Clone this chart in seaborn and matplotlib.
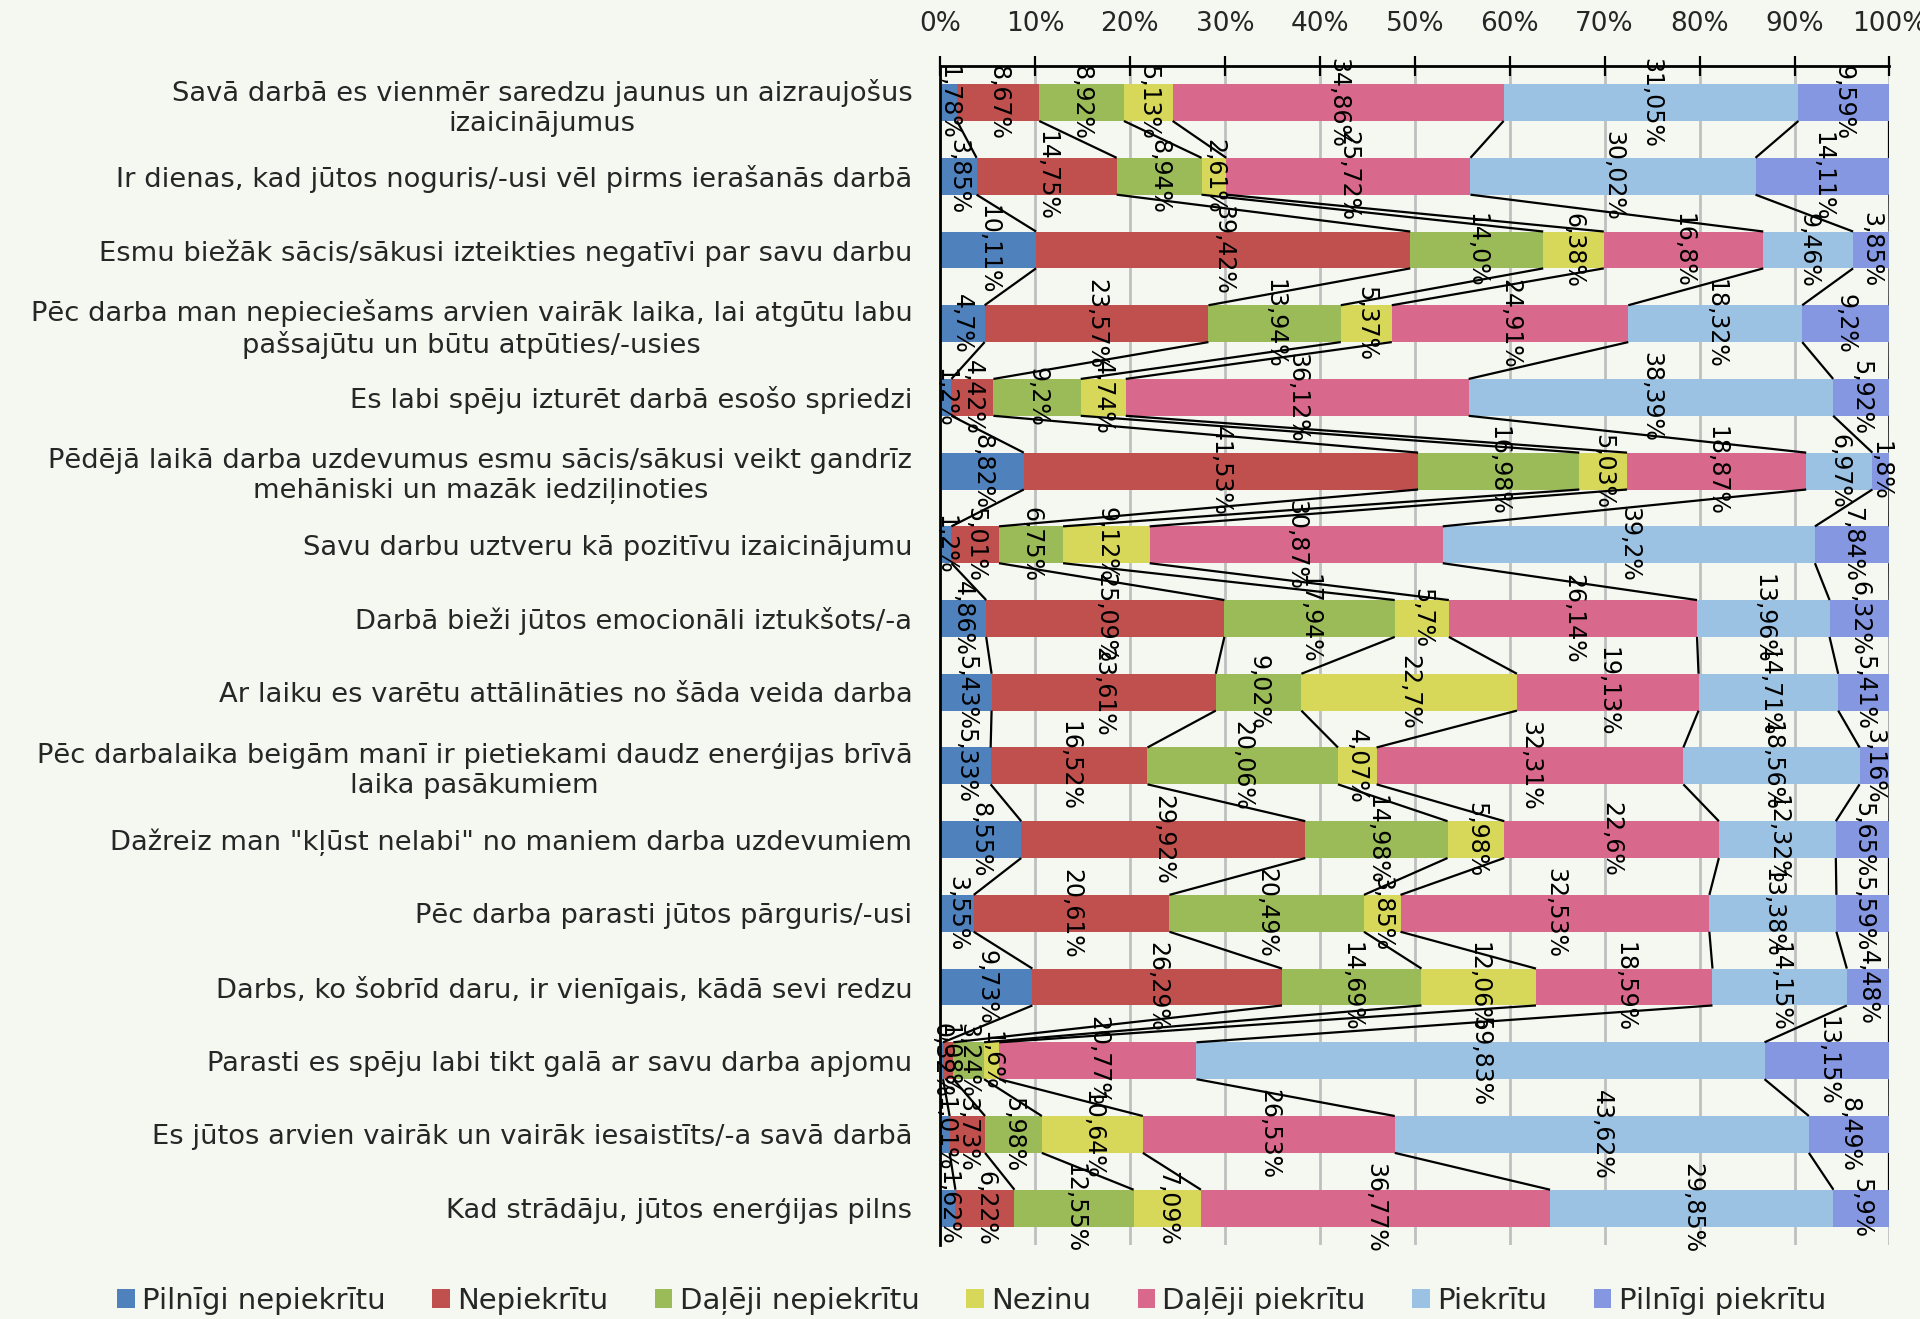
import numpy as np
import pandas as pd
import matplotlib
matplotlib.use("Agg")
import matplotlib.pyplot as plt
import seaborn as sns
from matplotlib.patches import Patch

categories = [
    "Savā darbā es vienmēr saredzu jaunus un aizraujošus\nizaicinājumus",
    "Ir dienas, kad jūtos noguris/-usi vēl pirms ierašanās darbā",
    "Esmu biežāk sācis/sākusi izteikties negatīvi par savu darbu",
    "Pēc darba man nepieciešams arvien vairāk laika, lai atgūtu labu\npašsajūtu un būtu atpūties/-usies",
    "Es labi spēju izturēt darbā esošo spriedzi",
    "Pēdējā laikā darba uzdevumus esmu sācis/sākusi veikt gandrīz\nmehāniski un mazāk iedziļinoties",
    "Savu darbu uztveru kā pozitīvu izaicinājumu",
    "Darbā bieži jūtos emocionāli iztukšots/-a",
    "Ar laiku es varētu attālināties no šāda veida darba",
    "Pēc darbalaika beigām manī ir pietiekami daudz enerģijas brīvā\nlaika pasākumiem",
    "Dažreiz man \"kļūst nelabi\" no maniem darba uzdevumiem",
    "Pēc darba parasti jūtos pārguris/-usi",
    "Darbs, ko šobrīd daru, ir vienīgais, kādā sevi redzu",
    "Parasti es spēju labi tikt galā ar savu darba apjomu",
    "Es jūtos arvien vairāk un vairāk iesaistīts/-a savā darbā",
    "Kad strādāju, jūtos enerģijas pilns",
]

series_names = ["Pilnīgi nepiekrītu", "Nepiekrītu", "Daļēji nepiekrītu", "Nezinu",
                "Daļēji piekrītu", "Piekrītu", "Pilnīgi piekrītu"]

pilnigi_nepiekritu = [1.78, 3.85, 10.11, 4.7, 1.2, 8.82, 1.2, 4.86, 5.43, 5.33, 8.55, 3.55, 9.73, 0.32, 1.01, 1.62]
nepiekritu = [8.67, 14.75, 39.42, 23.57, 4.42, 41.53, 5.01, 25.09, 23.61, 16.52, 29.92, 20.61, 26.29, 1.08, 3.73, 6.22]
daleji_nepiekritu = [8.92, 8.94, 14.0, 13.94, 9.2, 16.98, 6.75, 17.94, 9.02, 20.06, 14.98, 20.49, 14.69, 3.24, 5.98, 12.55]
nezinu = [5.13, 2.61, 6.38, 5.37, 4.74, 5.03, 9.12, 5.7, 22.7, 4.07, 5.98, 3.85, 12.06, 1.6, 10.64, 7.09]
daleji_piekritu = [34.86, 25.72, 16.8, 24.91, 36.12, 18.87, 30.87, 26.14, 19.13, 32.31, 22.6, 32.53, 18.59, 20.77, 26.53, 36.77]
piekritu = [31.05, 30.02, 9.46, 18.32, 38.39, 6.97, 39.2, 13.96, 14.71, 18.56, 12.32, 13.38, 14.15, 59.83, 43.62, 29.85]
pilnigi_piekritu = [9.59, 14.11, 3.85, 9.2, 5.92, 1.8, 7.84, 6.32, 5.41, 3.16, 5.65, 5.59, 4.48, 13.15, 8.49, 5.9]

x_ticks = [0, 10, 20, 30, 40, 50, 60, 70, 80, 90, 100]
x_tick_labels = ["0%", "10%", "20%", "30%", "40%", "50%", "60%", "70%", "80%", "90%", "100%"]

colors = ["#4F81BD", "#C0504D", "#9BBB59", "#D7D75A", "#D9698C", "#9BC2E3", "#8497E0"]
bg = "#F5F8F0"

values = np.array([pilnigi_nepiekritu, nepiekritu, daleji_nepiekritu, nezinu,
                   daleji_piekritu, piekritu, pilnigi_piekritu]).T  # rows x series
cum = np.cumsum(values, axis=1)
starts = cum - values

sns.set_theme(style="white")
plt.rcParams["font.family"] = ["DejaVu Sans"]

fig = plt.figure(figsize=(19.2, 13.19), dpi=100, facecolor=bg)
ax = fig.add_axes([0.4896, 0.0561, 0.4945, 0.8941])
ax.set_facecolor(bg)

BAR_W = 0.5
for k in range(len(series_names) - 1, -1, -1):
    df = pd.DataFrame({"cat": categories, "val": cum[:, k]})
    sns.barplot(data=df, x="val", y="cat", orient="h", color=colors[k],
                saturation=1, width=BAR_W, ax=ax, linewidth=0, zorder=2)

# series lines
n = len(categories)
for i in range(n - 1):
    for k in range(len(series_names)):
        ax.plot([cum[i, k], cum[i + 1, k]], [i + BAR_W / 2, i + 1 - BAR_W / 2],
                color="black", lw=1.6, zorder=3, solid_capstyle="butt")

# data labels
for i in range(n):
    for k in range(len(series_names)):
        v = values[i, k]
        txt = str(float(v)).replace(".", ",") + "%"
        ax.text(starts[i, k] + v / 2, i, txt, rotation=-90, ha="center", va="center",
                fontsize=17, color="black", zorder=4)

ax.set_xlim(0, 100)
ax.set_ylim(n - 0.5, -0.5)
ax.set_xlabel("")
ax.set_ylabel("")
ax.xaxis.tick_top()
ax.set_xticks(x_ticks)
ax.set_xticklabels(x_tick_labels)
ax.tick_params(axis="x", direction="inout", length=14, width=1.6, color="black",
               labelsize=19, pad=14, top=True, bottom=False)
ax.tick_params(axis="y", length=0, labelsize=19.7, pad=20)
for lab in ax.get_yticklabels():
    lab.set_multialignment("center")
ax.grid(axis="x", color="#BFBFBF", lw=2, zorder=0)
ax.grid(axis="y", visible=False)
ax.set_axisbelow(True)
for s in ["right", "bottom"]:
    ax.spines[s].set_visible(False)
for s in ["top", "left"]:
    ax.spines[s].set_color("black")
    ax.spines[s].set_linewidth(2)
    ax.spines[s].set_zorder(5)

handles = [Patch(facecolor=c, edgecolor="none", label=l) for c, l in zip(colors, series_names)]
fig.legend(handles=handles, loc="center", bbox_to_anchor=(0.506, 0.014), ncol=7,
           frameon=False, fontsize=21, handlelength=0.6, handleheight=0.6,
           handletextpad=0.25, columnspacing=1.6)

fig.savefig("out.png", dpi=100, facecolor=bg)
